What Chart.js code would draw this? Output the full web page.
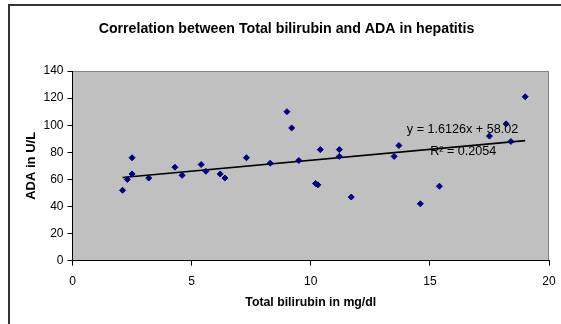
<!DOCTYPE html>
<html>
<head>
<meta charset="utf-8">
<script src="https://cdn.jsdelivr.net/npm/chart.js@4.4.1/dist/chart.umd.min.js"></script>
<style>
  html, body { margin: 0; padding: 0; background: #fff; }
  #wrap { width: 561px; height: 324px; position: relative; }
</style>
</head>
<body>
<div id="wrap"><canvas id="chart" width="561" height="324"></canvas></div>
<script>
// Total bilirubin (mg/dl) vs ADA (U/L)
const bilirubin = [2.1, 2.3, 2.5, 2.5, 3.2, 4.3, 4.6, 5.4, 5.6, 6.2, 6.4, 7.3, 8.3, 9.0, 9.2, 9.5,
  10.2, 10.3, 10.4, 11.2, 11.2, 11.7, 13.5, 13.7, 14.6, 15.4, 17.5, 18.2, 18.4, 19.0];
const ada = [52, 60, 76, 64, 61, 69, 63, 71, 66, 64, 61, 76, 72, 110, 98, 74,
  57, 56, 82, 82, 77, 47, 77, 85, 42, 55, 92, 101, 88, 121];

// trendline shown on the chart
const slope = 1.6126;
const intercept = 58.02;
const eqText = 'y = 1.6126x + 58.02';
const r2Text = 'R\u00B2 = 0.2054';

const xTicks = [0, 5, 10, 15, 20];
const yTicks = [0, 20, 40, 60, 80, 100, 120, 140];

const points = bilirubin.map((b, i) => ({ x: b, y: ada[i] }));
const xMin = Math.min(...bilirubin), xMax = Math.max(...bilirubin);
const trend = [
  { x: xMin, y: slope * xMin + intercept },
  { x: xMax, y: slope * xMax + intercept }
];

const FONT = 'Arial, "Liberation Sans", sans-serif';

// grey plot area, outer frame and the equation label
const decor = {
  id: 'decor',
  beforeDraw(chart) {
    const { ctx, chartArea: a } = chart;
    ctx.save();
    ctx.fillStyle = '#fff';
    ctx.fillRect(0, 0, chart.width, chart.height);
    ctx.strokeStyle = '#333';
    ctx.lineWidth = 2;
    ctx.strokeRect(9, 5, 600, 400);
    ctx.fillStyle = '#c0c0c0';
    ctx.fillRect(a.left, a.top, a.right - a.left, a.bottom - a.top);
    ctx.strokeStyle = '#808080';
    ctx.lineWidth = 1;
    ctx.beginPath();
    ctx.moveTo(a.left, a.top + 0.5);
    ctx.lineTo(a.right - 0.5, a.top + 0.5);
    ctx.lineTo(a.right - 0.5, a.bottom);
    ctx.stroke();
    ctx.restore();
  },
  afterDatasetsDraw(chart) {
    const { ctx, scales: { x, y } } = chart;
    ctx.save();
    ctx.fillStyle = '#000';
    ctx.font = '12.6px ' + FONT;
    ctx.textAlign = 'center';
    ctx.textBaseline = 'middle';
    ctx.fillText(eqText, x.getPixelForValue(16.37), y.getPixelForValue(96.5));
    ctx.fillText(r2Text, x.getPixelForValue(16.4), y.getPixelForValue(80.3));
    ctx.restore();
  }
};

new Chart(document.getElementById('chart'), {
  type: 'scatter',
  data: {
    datasets: [
      {
        label: 'ADA',
        data: points,
        pointStyle: 'rectRot',
        pointRadius: 3,
        pointHoverRadius: 3,
        backgroundColor: '#000080',
        borderColor: '#000080',
        borderWidth: 1
      },
      {
        label: 'Linear',
        type: 'line',
        data: trend,
        borderColor: '#000',
        borderWidth: 1.6,
        pointRadius: 0,
        fill: false
      }
    ]
  },
  options: {
    responsive: false,
    animation: false,
    layout: { padding: { left: 24, right: 12, top: 0, bottom: 0 } },
    plugins: {
      legend: { display: false },
      tooltip: { enabled: false },
      title: {
        display: true,
        text: 'Correlation between Total bilirubin and ADA in hepatitis',
        color: '#000',
        font: { family: FONT, size: 14.2, weight: 'bold' },
        padding: { top: 21, bottom: 33 }
      }
    },
    scales: {
      x: {
        type: 'linear',
        min: 0, max: 20,
        afterBuildTicks: s => { s.ticks = xTicks.map(v => ({ value: v })); },
        afterFit: s => { s.height = 63.3; s.paddingLeft = 0; s.paddingRight = 0; },
        grid: { drawOnChartArea: false, drawTicks: true, tickLength: 5, color: '#000' },
        border: { display: true, color: '#000', width: 1 },
        ticks: { color: '#000', font: { family: FONT, size: 12 }, padding: 9, maxRotation: 0 },
        title: {
          display: true,
          text: 'Total bilirubin in mg/dl',
          color: '#000',
          font: { family: FONT, size: 12.3, weight: 'bold' },
          padding: { top: 0, bottom: 14 }
        }
      },
      y: {
        type: 'linear',
        min: 0, max: 140,
        afterBuildTicks: s => { s.ticks = yTicks.map(v => ({ value: v })); },
        afterFit: s => { s.width = 48.5; s.paddingTop = 0; s.paddingBottom = 0; },
        grid: { drawOnChartArea: false, drawTicks: true, tickLength: 5, color: '#000' },
        border: { display: true, color: '#000', width: 1 },
        ticks: { color: '#000', font: { family: FONT, size: 12 }, padding: 4 },
        title: {
          display: true,
          text: 'ADA in U/L',
          color: '#000',
          font: { family: FONT, size: 13, weight: 'bold' },
          padding: { top: 0, bottom: 0 }
        }
      }
    }
  },
  plugins: [decor]
});
</script>
</body>
</html>
